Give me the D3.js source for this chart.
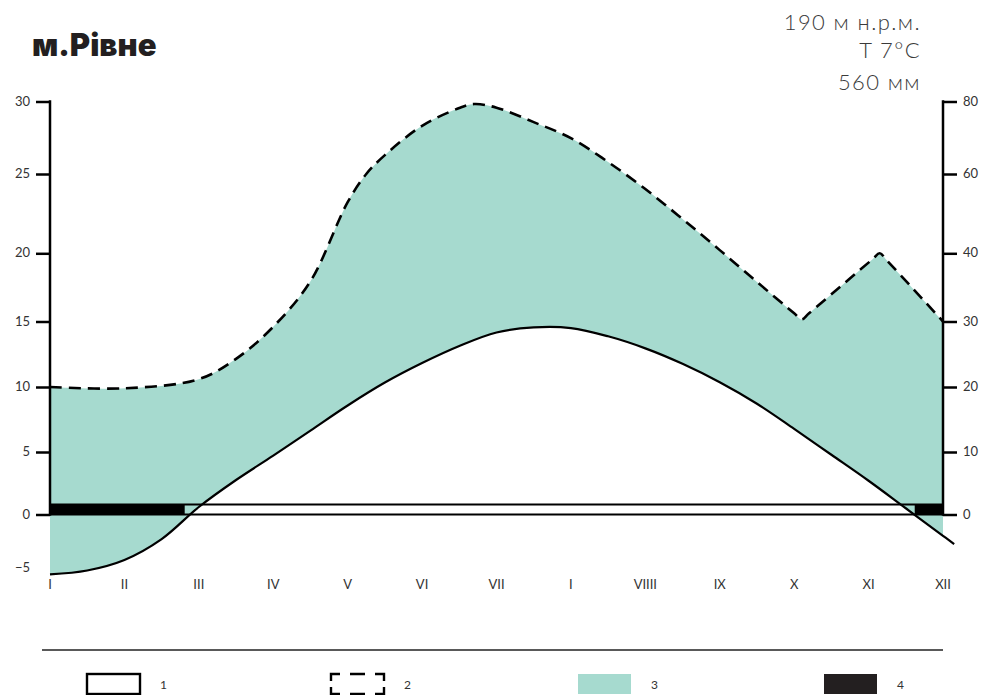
<!DOCTYPE html>
<html>
<head>
<meta charset="utf-8">
<script src="https://cdn.jsdelivr.net/npm/d3@7"></script>
<style>
  body { margin: 0; background: #fff; }
  svg { display: block; }
</style>
</head>
<body>
<svg id="chart" width="983" height="695"></svg>
<script>
// Climate diagram data
const monthLabels = ["I", "II", "III", "IV", "V", "VI", "VII", "I", "VIIII", "IX", "X", "XI", "XII"];
const tempTicks = [-5, 0, 5, 10, 15, 20, 25, 30];     // °C, left axis
const precipTicks = [0, 10, 20, 30, 40, 60, 80];      // mm, right axis

// Temperature curve (month position, °C)
const tempMonths = [0, 0.5, 1, 1.5, 2, 2.5, 3, 3.5, 4, 4.5, 5, 5.5, 6, 6.5, 7, 7.5, 8, 8.5, 9, 9.5, 10, 10.5, 11, 11.5, 12, 12.15];
const tempValues = [-5.59, -5.23, -4.25, -2.3, 0.6, 2.76, 4.71, 6.65, 8.58, 10.34, 11.83, 13.13, 14.16, 14.55, 14.5, 13.87, 12.95, 11.77, 10.36, 8.71, 6.78, 4.78, 2.7, 0.5, -1.99, -2.76];

// Precipitation curve (month position, mm)
const precipMonths = [0, 1, 2, 2.5, 3, 3.5, 4, 4.25, 4.5, 5, 5.5, 5.7, 6, 6.5, 7, 7.5, 8, 8.5, 9, 9.5, 10, 10.1, 10.2, 11.05, 11.15, 11.25, 12];
const precipValues = [20, 19.8, 21.2, 24.3, 29.2, 35.9, 52.9, 60, 65.2, 73.3, 78.2, 79.3, 78.3, 74.3, 69.9, 63.3, 56.2, 48.65, 40.8, 35.8, 31.2, 30.3, 31.2, 39.1, 40, 38.9, 30];

// Months with frost (start, end)
const frostStart = [0, 11.62];
const frostEnd = [1.81, 12];

const legendLabels = ["1", "2", "3", "4"];
const titleText = "м.Рівне";
const infoLines = ["190 м н.р.м.", "T 7°C", "560 мм"];

const TEAL = "#a6dacf";
const INK = "#000";
const TEXT = "#333";
const FONT = "Lato, 'Noto Sans', sans-serif";
const CURVE = d3.curveCatmullRom.alpha(0.5);

const svg = d3.select("#chart");

// Scales
const x = d3.scaleLinear().domain([0, 12]).range([50, 943]);
const yT = d3.scaleLinear().domain(tempTicks).range([568, 514.5, 452, 387, 321.5, 253.3, 174, 101.5]);
const yP = d3.scaleLinear().domain(precipTicks).range([514.5, 452, 387, 321.5, 253.3, 174, 101.5]);

const tempPts = tempMonths.map((m, i) => [m, tempValues[i]]);
const precipPts = precipMonths.map((m, i) => [m, precipValues[i]]);

// Clip: everything above the temperature curve
const defs = svg.append("defs");
defs.append("clipPath").attr("id", "aboveTemp")
  .append("path")
  .attr("d", d3.area()
    .x(d => x(d[0]))
    .y0(0)
    .y1(d => yT(d[1]))
    .curve(CURVE)(tempPts));

// Humid-period fill: below precipitation, above temperature
svg.append("g").attr("clip-path", "url(#aboveTemp)")
  .append("path")
  .attr("d", d3.area()
    .x(d => x(d[0]))
    .y0(d => yP(d[1]))
    .y1(700)
    .curve(CURVE)(precipPts))
  .attr("fill", TEAL);

// Frost band
const zeroY = yT(0);
const bandH = 10;
svg.append("g").selectAll("rect")
  .data(frostStart.map((s, i) => [s, frostEnd[i]]))
  .join("rect")
  .attr("x", d => x(d[0]))
  .attr("width", d => x(d[1]) - x(d[0]))
  .attr("y", zeroY - bandH)
  .attr("height", bandH)
  .attr("fill", INK);

svg.append("line")
  .attr("x1", x(0)).attr("x2", x(12))
  .attr("y1", zeroY - bandH).attr("y2", zeroY - bandH)
  .attr("stroke", INK).attr("stroke-width", 2);
svg.append("line")
  .attr("x1", x(0)).attr("x2", x(12))
  .attr("y1", zeroY).attr("y2", zeroY)
  .attr("stroke", INK).attr("stroke-width", 2.2);

// Temperature line
svg.append("path")
  .attr("d", d3.line()
    .x(d => x(d[0]))
    .y(d => yT(d[1]))
    .curve(CURVE)(tempPts))
  .attr("fill", "none")
  .attr("stroke", INK)
  .attr("stroke-width", 2.2);

// Precipitation line
svg.append("path")
  .attr("d", d3.line()
    .x(d => x(d[0]))
    .y(d => yP(d[1]))
    .curve(CURVE)(precipPts))
  .attr("fill", "none")
  .attr("stroke", INK)
  .attr("stroke-width", 2.6)
  .attr("stroke-dasharray", "12,7")
  .attr("stroke-linejoin", "round");

// Axes
function styleAxis(g) {
  g.select(".domain").remove();
  g.selectAll(".tick line").attr("stroke", INK).attr("stroke-width", 2.5);
  g.selectAll(".tick text")
    .attr("fill", TEXT)
    .style("font-family", FONT)
    .style("font-size", "13px");
}

const leftAxis = svg.append("g")
  .attr("transform", `translate(${x(0)},0)`)
  .call(d3.axisLeft(yT).tickValues(tempTicks).tickSize(14).tickPadding(6).tickFormat(d3.format("d")))
  .call(styleAxis);
leftAxis.selectAll(".tick").filter(d => d < 0).select("line").remove();
leftAxis.selectAll(".tick text").attr("dy", "0.28em");

svg.append("line")
  .attr("x1", x(0)).attr("x2", x(0))
  .attr("y1", yT(0)).attr("y2", yT(30))
  .attr("stroke", INK).attr("stroke-width", 2.5).attr("stroke-linecap", "square");

const rightAxis = svg.append("g")
  .attr("transform", `translate(${x(12)},0)`)
  .call(d3.axisRight(yP).tickValues(precipTicks).tickSize(14).tickPadding(6).tickFormat(d3.format("d")))
  .call(styleAxis);
rightAxis.selectAll(".tick text").attr("dy", "0.28em");

svg.append("line")
  .attr("x1", x(12)).attr("x2", x(12))
  .attr("y1", yP(0)).attr("y2", yP(80))
  .attr("stroke", INK).attr("stroke-width", 2.5).attr("stroke-linecap", "square");

// Month labels
svg.append("g").selectAll("text")
  .data(monthLabels)
  .join("text")
  .attr("x", (d, i) => x(i))
  .attr("y", 589)
  .attr("text-anchor", "middle")
  .attr("fill", TEXT)
  .style("font-family", FONT)
  .style("font-size", "13px")
  .text(d => d);

// Title
svg.append("text")
  .attr("x", 32).attr("y", 56)
  .attr("fill", "#231f20")
  .style("font-family", "Inter, 'Open Sans', sans-serif")
  .style("font-weight", 900)
  .style("font-size", "31px")
  .text(titleText);

// Station info
svg.append("g").selectAll("text")
  .data(infoLines)
  .join("text")
  .attr("x", 921)
  .attr("y", (d, i) => [30, 58, 90][i])
  .attr("text-anchor", "end")
  .attr("fill", "#3a3a3a")
  .style("font-family", FONT)
  .style("font-weight", 300)
  .style("font-size", "22px")
  .style("letter-spacing", "1.4px")
  .text(d => d);

// Legend
svg.append("line")
  .attr("x1", 42).attr("x2", 943)
  .attr("y1", 650).attr("y2", 650)
  .attr("stroke", "#222").attr("stroke-width", 1.3);

const legendX = [87, 331, 578, 824];
const legend = svg.append("g");
legendLabels.forEach((lab, i) => {
  const lx = legendX[i], ly = 674, w = 53, h = 20;
  if (i === 0) {
    legend.append("rect").attr("x", lx).attr("y", ly).attr("width", w).attr("height", h)
      .attr("fill", "#fff").attr("stroke", INK).attr("stroke-width", 2.4);
  } else if (i === 1) {
    // dashed frame: corner brackets plus middle dashes
    const p = d3.path();
    p.moveTo(lx + 9, ly); p.lineTo(lx, ly); p.lineTo(lx, ly + 7);
    p.moveTo(lx, ly + 13); p.lineTo(lx, ly + h); p.lineTo(lx + 9, ly + h);
    p.moveTo(lx + 19, ly); p.lineTo(lx + 34, ly);
    p.moveTo(lx + 19, ly + h); p.lineTo(lx + 34, ly + h);
    p.moveTo(lx + w - 9, ly); p.lineTo(lx + w, ly); p.lineTo(lx + w, ly + 7);
    p.moveTo(lx + w, ly + 13); p.lineTo(lx + w, ly + h); p.lineTo(lx + w - 9, ly + h);
    legend.append("path").attr("d", p.toString())
      .attr("fill", "none").attr("stroke", INK).attr("stroke-width", 2.4);
  } else {
    legend.append("rect").attr("x", lx).attr("y", ly).attr("width", w).attr("height", h)
      .attr("fill", i === 2 ? TEAL : "#231f20");
  }
  legend.append("text")
    .attr("x", lx + 73).attr("y", 689)
    .attr("fill", TEXT)
    .style("font-family", FONT)
    .style("font-size", "12px")
    .text(lab);
});
</script>
</body>
</html>
